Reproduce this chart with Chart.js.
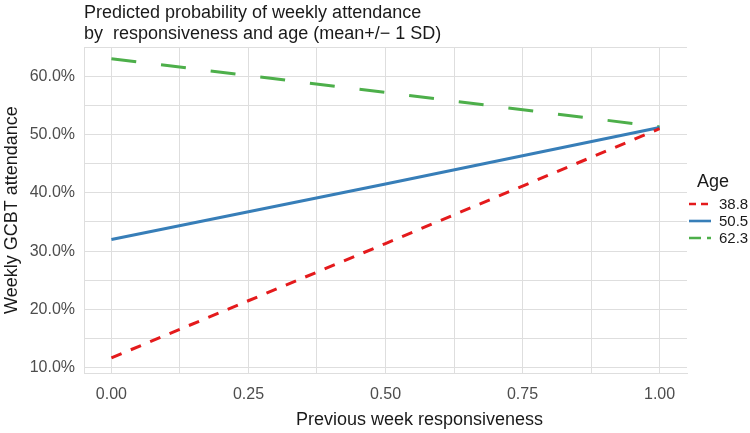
<!DOCTYPE html>
<html>
<head>
<meta charset="utf-8">
<script src="https://cdn.jsdelivr.net/npm/chart.js@4"></script>
<style>
  body { margin: 0; background: #fff; }
  #wrap { position: relative; width: 750px; height: 433px; font-family: "Liberation Sans", Arial, sans-serif; }
  #titulo { position: absolute; left: 84px; top: 2px; font-size: 18px; line-height: 21px; color: #1a1a1a; white-space: pre; }
  #ejeX { position: absolute; left: 296px; top: 409px; font-size: 18px; line-height: 21px; color: #1a1a1a; white-space: pre; }
</style>
</head>
<body>
<div id="wrap">
  <canvas id="grafica" width="750" height="433"></canvas>
  <div id="titulo">Predicted probability of weekly attendance
by  responsiveness and age (mean+/− 1 SD)</div>
  <div id="ejeX">Previous week responsiveness</div>
</div>
<script>
// valores
const responsiveness = [0, 0.5, 1]
const edades = ["38.8", "50.5", "62.3"]
const edad388 = [11.7, 31.3, 51.0]
const edad505 = [32.0, 41.5, 51.2]
const edad623 = [63.0, 57.2, 51.3]
const ticksX = [0, 0.125, 0.25, 0.375, 0.5, 0.625, 0.75, 0.875, 1]
const ticksY = [10, 15, 20, 25, 30, 35, 40, 45, 50, 55, 60, 65]

const grid = "#dedede"
const fuente = "'Liberation Sans', Arial, sans-serif"

const puntos = valores => valores.map((v, i) => ({ x: responsiveness[i], y: v }))

const leyenda = {
    id: "leyendaEdad",
    afterDraw(chart) {
        const ctx = chart.ctx
        ctx.save()
        ctx.fillStyle = "#1a1a1a"
        ctx.font = "18px " + fuente
        ctx.textBaseline = "middle"
        ctx.fillText("Age", 697, 182)
        chart.data.datasets.forEach((ds, i) => {
            const y = 204 + i * 17
            ctx.beginPath()
            ctx.setLineDash(ds.legendDash)
            ctx.strokeStyle = ds.borderColor
            ctx.lineWidth = 2.6
            ctx.moveTo(689, y)
            ctx.lineTo(711, y)
            ctx.stroke()
            ctx.setLineDash([])
            ctx.fillStyle = "#1a1a1a"
            ctx.font = "15px " + fuente
            ctx.fillText(ds.label, 719, y + 1)
        })
        ctx.restore()
    }
}

new Chart(document.querySelector("#grafica"), {
    type: "line",
    data: {
        datasets: [
            { label: edades[0], data: puntos(edad388), borderColor: "#E41A1C", borderWidth: 3, borderDash: [11, 10], legendDash: [7, 5] },
            { label: edades[1], data: puntos(edad505), borderColor: "#377EB8", borderWidth: 3, borderDash: [], legendDash: [] },
            { label: edades[2], data: puntos(edad623), borderColor: "#4DAF4A", borderWidth: 3, borderDash: [25, 25], legendDash: [12, 6] }
        ]
    },
    options: {
        responsive: false,
        animation: false,
        layout: { padding: { top: 47, right: 63, left: 0, bottom: 0 } },
        elements: { point: { radius: 0 }, line: { tension: 0 } },
        plugins: { legend: { display: false }, tooltip: { enabled: false } },
        scales: {
            x: {
                type: "linear",
                min: -0.05,
                max: 1.05,
                afterBuildTicks: scale => { scale.ticks = ticksX.map(v => ({ value: v })) },
                afterFit: scale => { scale.height = 60 },
                grid: { color: grid, lineWidth: 1, drawTicks: false },
                border: { display: true, color: grid, width: 1 },
                ticks: {
                    autoSkip: false,
                    maxRotation: 0,
                    padding: 12,
                    color: "#4d4d4d",
                    font: { family: fuente, size: 16 },
                    callback: v => (Math.abs(v * 4 - Math.round(v * 4)) < 1e-9 ? v.toFixed(2) : "")
                }
            },
            y: {
                min: 9.1,
                max: 65,
                afterBuildTicks: scale => { scale.ticks = ticksY.map(v => ({ value: v })) },
                afterFit: scale => { scale.width = 84 },
                grid: { color: grid, lineWidth: 1, drawTicks: false },
                border: { display: true, color: grid, width: 1 },
                ticks: {
                    autoSkip: false,
                    padding: 9,
                    color: "#4d4d4d",
                    font: { family: fuente, size: 16 },
                    callback: v => (v % 10 === 0 ? v.toFixed(1) + "%" : "")
                },
                title: {
                    display: true,
                    text: "Weekly GCBT attendance",
                    color: "#1a1a1a",
                    padding: { top: 1, bottom: 0 },
                    font: { family: fuente, size: 18 }
                }
            }
        }
    },
    plugins: [leyenda]
})
</script>
</body>
</html>
